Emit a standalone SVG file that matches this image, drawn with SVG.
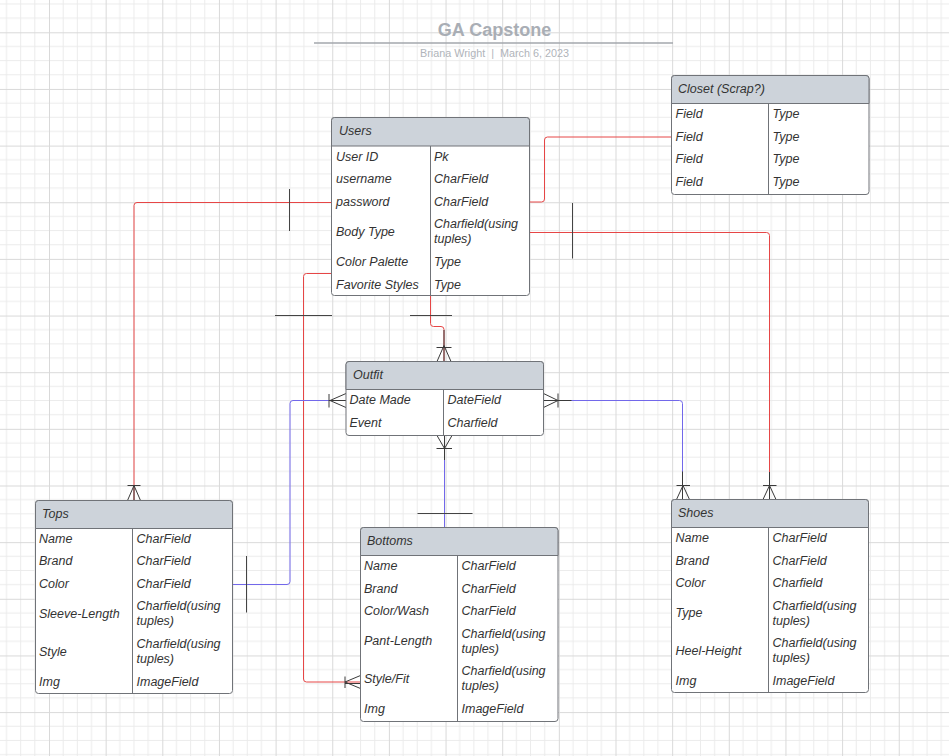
<svg xmlns="http://www.w3.org/2000/svg" width="949" height="756" viewBox="0 0 949 756">
<style>
.t{font-family:"Liberation Sans",Arial,sans-serif;font-size:12.5px;font-style:italic;fill:#333}
.box{fill:#fff;stroke:#707378;stroke-width:1}
.hd{fill:#cdd3da;stroke:#707378;stroke-width:1}
.dv{stroke:#707378;stroke-width:1}
.red{fill:none;stroke:#e64646;stroke-width:1}
.blue{fill:none;stroke:#7268ea;stroke-width:1}
.mk{fill:none;stroke:#3a3a3a;stroke-width:1}
.tk{fill:none;stroke:#444;stroke-width:1}
</style>
<defs>
<pattern id="grid" patternUnits="userSpaceOnUse" x="49" y="32.3" width="56.65" height="56.65">
<path d="M14.16,0V56.65M28.33,0V56.65M42.49,0V56.65M0,14.16H56.65M0,28.33H56.65M0,42.49H56.65" stroke="#ebebeb" stroke-width="1" fill="none"/>
<path d="M0.5,0V56.65M0,0.5H56.65" stroke="#d9d9d9" stroke-width="1" fill="none"/>
</pattern>
</defs>
<rect x="0" y="0" width="949" height="756" fill="#fff"/>
<rect x="0" y="0" width="949" height="756" fill="url(#grid)"/>

<g id="title">
<text x="494.5" y="36" text-anchor="middle" style="font-family:'Liberation Sans',Arial,sans-serif;font-size:18px;font-weight:bold;fill:#a9aeb5">GA Capstone</text>
<line x1="314" y1="43" x2="673" y2="43" stroke="#a3a7ad" stroke-width="1.3"/>
<text x="494.5" y="57" text-anchor="middle" xml:space="preserve" style="font-family:'Liberation Sans',Arial,sans-serif;font-size:10.8px;fill:#b0b4ba">Briana Wright  |  March 6, 2023</text>
</g>

<g id="connectors">
<!-- Users password -> Tops -->
<path class="red" d="M331.5,202.5H137Q134,202.5 134,205.5V500.5"/>
<path class="tk" d="M289.5,189V231"/>
<path class="mk" d="M127.5,485.5H140.5M134,485.5L127.5,500.5M134,485.5L140.5,500.5M134,485.5V500.5"/>
<!-- Users body type -> Shoes -->
<path class="red" d="M529.5,232.5H766.5Q769.5,232.5 769.5,235.5V499.5"/>
<path class="tk" d="M572.5,203V258.5"/>
<path class="mk" d="M763,485.5H776.5M769.5,485.5L763,499.5M769.5,485.5L776,499.5M769.5,472V499.5"/>
<!-- Users -> Closet -->
<path class="red" d="M529.5,202H541.5Q544.5,202 544.5,199V140Q544.5,137 547.5,137H671.5"/>
<!-- Users -> Outfit -->
<path class="red" d="M430.5,296V323.5Q430.5,326.5 433.5,326.5H441Q444,326.5 444,329.5V361.5"/>
<path class="tk" d="M410,315.5H452"/>
<path class="mk" d="M436.5,347.5H451.5M444,345.5L437,361.5M444,345.5L451,361.5M444,330V361.5"/>
<!-- Users color palette -> Bottoms style/fit -->
<path class="red" d="M331.5,273.5H306.5Q303.5,273.5 303.5,276.5V679Q303.5,682 306.5,682H360.5"/>
<path class="tk" d="M275,315.5H332"/>
<path class="mk" d="M345,676.5V688M345,682L360.5,675.5M345,682L360.5,688.5M345,683.5H360.5"/>
<!-- Outfit date made -> Tops color -->
<path class="blue" d="M346,400.5H293Q290,400.5 290,403.5V581.5Q290,584.5 287,584.5H232.5"/>
<path class="tk" d="M246.5,556V612.5"/>
<path class="mk" d="M329,394V407.5M330,400.5L346,393.5M330,400.5L346,407.5M329,400.5H346"/>
<!-- Outfit -> Shoes -->
<path class="blue" d="M543.5,400.5H679.5Q682.5,400.5 682.5,403.5V499.5"/>
<path class="mk" d="M558,393.5V407.5M543.5,393.5L558,400.5M543.5,407.5L558,400.5M543.5,400.5H571.5"/>
<path class="mk" d="M676.5,485.5H690M683,485.5L676.5,499.5M683,485.5L689.5,499.5M682.5,471.5V499.5"/>
<!-- Outfit -> Bottoms -->
<path class="blue" d="M444.5,435.5V527.5"/>
<path class="mk" d="M437,435.5L444.5,448.5M452,435.5L444.5,448.5M436.5,448.5H452M444.5,435.5V460"/>
<path class="tk" d="M417.5,513.5H472.5"/>
</g>

<g id="users">
<rect class="box" x="331.5" y="117.5" width="198" height="178" rx="3"/>
<path class="hd" d="M334.5,117.5H526.5Q529.5,117.5 529.5,120.5V146H331.5V120.5Q331.5,117.5 334.5,117.5Z"/>
<line class="dv" x1="430.5" y1="146" x2="430.5" y2="295.5"/>
<text class="t" x="339" y="135">Users</text>
<text class="t" x="336" y="160.5">User ID</text><text class="t" x="434" y="160.5">Pk</text>
<text class="t" x="336" y="183">username</text><text class="t" x="434" y="183">CharField</text>
<text class="t" x="336" y="205.5">password</text><text class="t" x="434" y="205.5">CharField</text>
<text class="t" x="336" y="235.5">Body Type</text><text class="t" x="434" y="228">Charfield(using</text><text class="t" x="434" y="243">tuples)</text>
<text class="t" x="336" y="265.5">Color Palette</text><text class="t" x="434" y="265.5">Type</text>
<text class="t" x="336" y="288.5">Favorite Styles</text><text class="t" x="434" y="288.5">Type</text>
</g>

<g id="closet">
<rect class="box" x="671.5" y="75.5" width="197.5" height="119" rx="3"/>
<path class="hd" d="M674.5,75.5H866Q869,75.5 869,78.5V103.5H671.5V78.5Q671.5,75.5 674.5,75.5Z"/>
<line class="dv" x1="768.5" y1="103.5" x2="768.5" y2="194.5"/>
<text class="t" x="678" y="92.5">Closet (Scrap?)</text>
<text class="t" x="675.5" y="117.5">Field</text><text class="t" x="772.5" y="117.5">Type</text>
<text class="t" x="675.5" y="140.5">Field</text><text class="t" x="772.5" y="140.5">Type</text>
<text class="t" x="675.5" y="163">Field</text><text class="t" x="772.5" y="163">Type</text>
<text class="t" x="675.5" y="185.5">Field</text><text class="t" x="772.5" y="185.5">Type</text>
</g>

<g id="outfit">
<rect class="box" x="346" y="361.5" width="197.5" height="74" rx="3"/>
<path class="hd" d="M349,361.5H540.5Q543.5,361.5 543.5,364.5V389.5H346V364.5Q346,361.5 349,361.5Z"/>
<line class="dv" x1="443.5" y1="389.5" x2="443.5" y2="435.5"/>
<text class="t" x="353" y="378.5">Outfit</text>
<text class="t" x="349.5" y="404">Date Made</text><text class="t" x="447.5" y="404">DateField</text>
<text class="t" x="349.5" y="426.5">Event</text><text class="t" x="447.5" y="426.5">Charfield</text>
</g>

<g id="tops">
<rect class="box" x="35.5" y="500.5" width="197" height="193" rx="3"/>
<path class="hd" d="M38.5,500.5H229.5Q232.5,500.5 232.5,503.5V528.5H35.5V503.5Q35.5,500.5 38.5,500.5Z"/>
<line class="dv" x1="132.5" y1="528.5" x2="132.5" y2="693.5"/>
<text class="t" x="42" y="517.5">Tops</text>
<text class="t" x="39" y="542.5">Name</text><text class="t" x="136.5" y="542.5">CharField</text>
<text class="t" x="39" y="565">Brand</text><text class="t" x="136.5" y="565">CharField</text>
<text class="t" x="39" y="587.5">Color</text><text class="t" x="136.5" y="587.5">CharField</text>
<text class="t" x="39" y="617.5">Sleeve-Length</text><text class="t" x="136.5" y="610">Charfield(using</text><text class="t" x="136.5" y="625">tuples)</text>
<text class="t" x="39" y="655.5">Style</text><text class="t" x="136.5" y="648">Charfield(using</text><text class="t" x="136.5" y="663">tuples)</text>
<text class="t" x="39" y="685.5">Img</text><text class="t" x="136.5" y="685.5">ImageField</text>
</g>

<g id="bottoms">
<rect class="box" x="360.5" y="527.5" width="197.5" height="194" rx="3"/>
<path class="hd" d="M363.5,527.5H555Q558,527.5 558,530.5V555.5H360.5V530.5Q360.5,527.5 363.5,527.5Z"/>
<line class="dv" x1="457.5" y1="555.5" x2="457.5" y2="721.5"/>
<text class="t" x="367" y="544.5">Bottoms</text>
<text class="t" x="364" y="569.5">Name</text><text class="t" x="461.5" y="569.5">CharField</text>
<text class="t" x="364" y="592.5">Brand</text><text class="t" x="461.5" y="592.5">CharField</text>
<text class="t" x="364" y="615">Color/Wash</text><text class="t" x="461.5" y="615">CharField</text>
<text class="t" x="364" y="644.5">Pant-Length</text><text class="t" x="461.5" y="637.5">Charfield(using</text><text class="t" x="461.5" y="652.5">tuples)</text>
<text class="t" x="364" y="682.5">Style/Fit</text><text class="t" x="461.5" y="675">Charfield(using</text><text class="t" x="461.5" y="690">tuples)</text>
<text class="t" x="364" y="713">Img</text><text class="t" x="461.5" y="713">ImageField</text>
</g>

<g id="shoes">
<rect class="box" x="671.5" y="499.5" width="197" height="193" rx="3"/>
<path class="hd" d="M674.5,499.5H865.5Q868.5,499.5 868.5,502.5V527.5H671.5V502.5Q671.5,499.5 674.5,499.5Z"/>
<line class="dv" x1="768.5" y1="527.5" x2="768.5" y2="692.5"/>
<text class="t" x="678" y="516.5">Shoes</text>
<text class="t" x="675.5" y="541.5">Name</text><text class="t" x="772.5" y="541.5">CharField</text>
<text class="t" x="675.5" y="564.5">Brand</text><text class="t" x="772.5" y="564.5">CharField</text>
<text class="t" x="675.5" y="587">Color</text><text class="t" x="772.5" y="587">Charfield</text>
<text class="t" x="675.5" y="616.5">Type</text><text class="t" x="772.5" y="609.5">Charfield(using</text><text class="t" x="772.5" y="624.5">tuples)</text>
<text class="t" x="675.5" y="654.5">Heel-Height</text><text class="t" x="772.5" y="647">Charfield(using</text><text class="t" x="772.5" y="662">tuples)</text>
<text class="t" x="675.5" y="684.5">Img</text><text class="t" x="772.5" y="684.5">ImageField</text>
</g>
</svg>
